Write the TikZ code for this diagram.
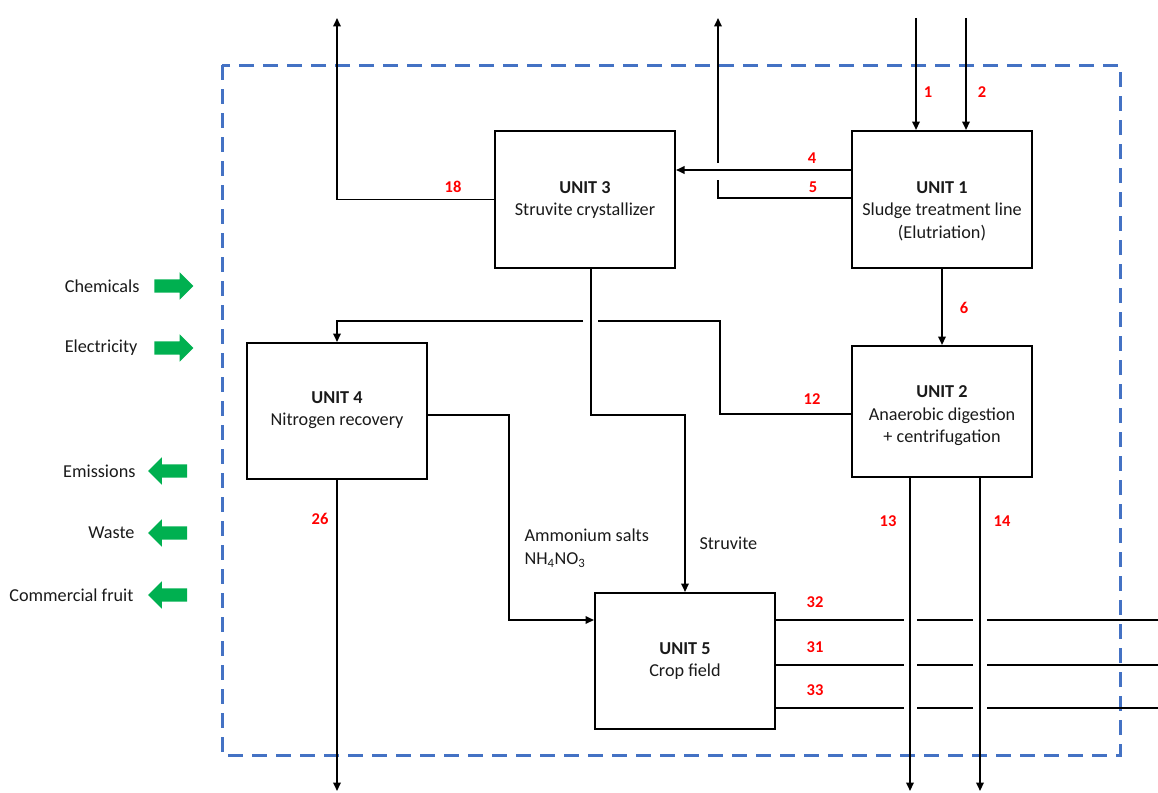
\documentclass[tikz,border=0pt]{standalone}
\usepackage{fontspec}
\setmainfont{Carlito}
\usetikzlibrary{arrows.meta,shapes.arrows}
\definecolor{frameblue}{HTML}{4472C4}
\definecolor{flowgreen}{HTML}{00B050}
\definecolor{numred}{HTML}{FF0000}
\definecolor{txtgray}{HTML}{1A1A1A}
\tikzset{
  unitbox/.style={draw=black, line width=2pt, minimum width=180pt, inner sep=0pt},
  unittext/.style={align=center, text=txtgray, font=\fontsize{18.2}{22.5}\selectfont},
  flow/.style={line width=1.9pt, black},
  arr/.style={flow, -{Triangle[length=8.5pt,width=7.5pt]}},
  num/.style={text=numred, font=\fontsize{16.5}{18}\selectfont\bfseries},
  lbl/.style={text=txtgray, font=\fontsize{18.2}{23}\selectfont},
  garrow/.style={single arrow, fill=flowgreen, draw=none, minimum height=39pt, minimum width=27pt, inner sep=6.5pt, single arrow head extend=7pt},
}
\begin{document}
\begin{tikzpicture}[x=1pt,y=-1pt]
\useasboundingbox (0,0) rectangle (1158,792);
% system boundary
\draw[frameblue, line width=3pt, dash pattern=on 15pt off 9pt] (222,65) rectangle (1120,755);

% units
\node[unitbox, minimum height=137pt] (u3) at (585,199.5) {};
\node[unittext] (u3t) at (585,200) {\textbf{UNIT 3}\\Struvite crystallizer};
\node[unitbox, minimum height=137pt] (u1) at (942,199.5) {};
\node[unittext] (u1t) at (942,211) {\textbf{UNIT 1}\\Sludge treatment line\\(Elutriation)};
\node[unitbox, minimum height=136pt] (u4) at (337,411) {};
\node[unittext] (u4t) at (337,410) {\textbf{UNIT 4}\\Nitrogen recovery};
\node[unitbox, minimum height=131pt] (u2) at (942,411.5) {};
\node[unittext] (u2t) at (942,416) {\textbf{UNIT 2}\\Anaerobic digestion\\+ centrifugation};
\node[unitbox, minimum height=136pt] (u5) at (685,661) {};
\node[unittext] (u5t) at (685,661) {\textbf{UNIT 5}\\Crop field};

% free ends
\coordinate (o18) at (337,18);
\coordinate (o5) at (718,18);
\coordinate (i1) at (916,18);
\coordinate (i2) at (966,18);
\coordinate (o26) at (337,791);
\coordinate (o13) at (910,791);
\coordinate (o14) at (980,791);
\coordinate (o32) at (1158,620);
\coordinate (o31) at (1158,665);
\coordinate (o33) at (1158,708);

% inputs 1,2
\draw[arr] (i1) -- (u1.north -| i1);
\draw[arr] (i2) -- (u1.north -| i2);
\node[num] (n1) at (928,92) {1};
\node[num] (n2) at (982,92) {2};

% 4 and 5
\draw[arr] (u1.west |- 0,170) -- (u3.east |- 0,170);
\node[num] (n4) at (812,158) {4};
\draw[flow] (u1.west |- 0,198) -- (718,198) -- (718,180);
\draw[arr] (718,163) -- (o5);
\node[num] (n5) at (813,187) {5};

% 18
\draw[arr] (u3.west) -| (o18);
\node[num] (n18) at (453,187) {18};

% 6
\draw[arr] (u1.south) -- (u2.north);
\node[num] (n6) at (964,308) {6};

% struvite
\draw[arr] (u3.south -| 591,0) -- (591,415) -| (u5.north);
\node[lbl, anchor=west] (lstr) at (696,543) {Struvite};

% 12
\draw[flow] (u2.west |- 0,414) -- (720,414) -- (720,321) -- (598,321);
\draw[arr] (583,321) -| (u4.north);
\node[num] (n12) at (812,399) {12};

% ammonium salts
\draw[arr] (u4.east |- 0,415) -- (509,415) -- (509,620) -- (u5.west |- 0,620);
\node[lbl, anchor=west, align=left] (lamm) at (521,548.5) {Ammonium salts\\NH\textsubscript{4}NO\textsubscript{3}};

% 26
\draw[arr] (u4.south) -- (o26);
\node[num] (n26) at (320,519) {26};

% 13, 14
\draw[arr] (u2.south -| o13) -- (o13);
\draw[arr] (u2.south -| o14) -- (o14);
\node[num] (n13) at (888,521) {13};
\node[num] (n14) at (1002,521) {14};

% 32, 31, 33 with bridges
\foreach \yy/\nm in {620/o32,665/o31,708/o33}{
  \draw[flow] (u5.east |- 0,\yy) -- (904,\yy);
  \draw[flow] (917,\yy) -- (973,\yy);
  \draw[flow] (987,\yy) -- (\nm);
}
\node[num] (n32) at (815,602) {32};
\node[num] (n31) at (815,647) {31};
\node[num] (n33) at (815,690) {33};

% left legend
\node[garrow] (gch) at (170.5,286) {};
\node[lbl, anchor=east] (tch) at (143,286) {Chemicals};
\node[garrow] (gel) at (170.5,348) {};
\node[lbl, anchor=east] (tel) at (141,348) {Electricity};
\node[garrow, shape border rotate=180] (gem) at (171,471) {};
\node[lbl, anchor=east] (tem) at (139,471) {Emissions};
\node[garrow, shape border rotate=180] (gwa) at (171,533) {};
\node[lbl, anchor=east] (twa) at (138,533) {Waste};
\node[garrow, shape border rotate=180] (gcf) at (171,595) {};
\node[lbl, anchor=east] (tcf) at (137,595) {Commercial fruit};
\end{tikzpicture}
\end{document}
